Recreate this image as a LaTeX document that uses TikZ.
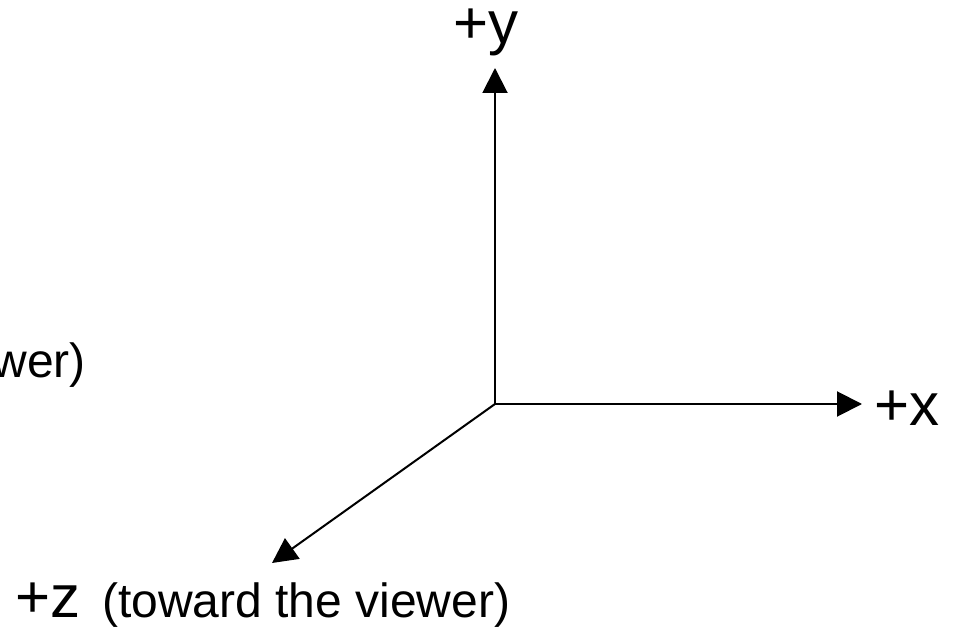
\documentclass[tikz,border=0pt]{standalone}
\usepackage{fontspec}
\setmainfont{Liberation Sans}
\usetikzlibrary{arrows.meta}
\begin{document}
\begin{tikzpicture}[x=1pt,y=-1pt,
  axis/.style={line width=2pt,-{Triangle[length=25pt,width=25pt]}},
  biglabel/.style={inner sep=0pt,anchor=base west,font=\fontsize{60}{72}\selectfont},
  smalllabel/.style={inner sep=0pt,anchor=base west,font=\fontsize{48}{58}\selectfont}]
\useasboundingbox (0,0) rectangle (958,631);
\clip (0,0) rectangle (958,631);
\coordinate (o) at (495,404);
\coordinate (ytip) at (495,68);
\coordinate (xtip) at (862,404);
\coordinate (ztip) at (272,563);
\draw[axis] (o) -- (ytip);
\draw[axis] (o) -- (xtip);
\draw[axis] (o) -- (ztip);
\node[biglabel] (ylab) at (453,44) {+y};
\node[biglabel] (xlab) at (874,425) {+x};
\node[biglabel] (zlab) at (15,617) {+z};
\node[smalllabel] (zdesc) at (102,617) {(toward the viewer)};
\node[smalllabel,anchor=base east] (frag) at (86,377) {wer)};
\end{tikzpicture}
\end{document}
